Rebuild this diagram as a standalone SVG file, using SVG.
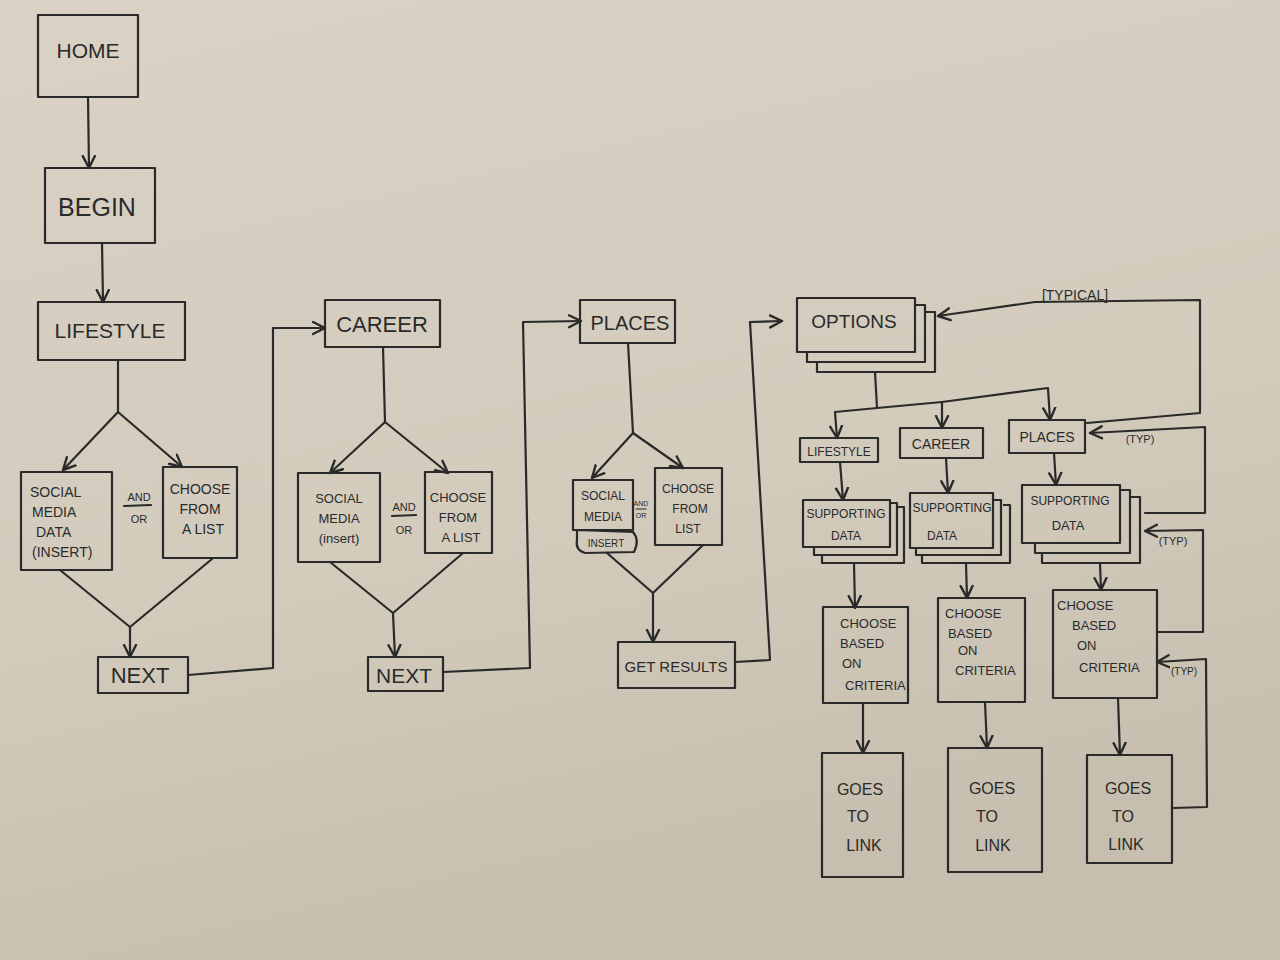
<svg xmlns="http://www.w3.org/2000/svg" width="1280" height="960" viewBox="0 0 1280 960">
<defs>
<linearGradient id="bg" x1="0" y1="0" x2="0.3" y2="1">
<stop offset="0" stop-color="#d9d2c5"/>
<stop offset="0.6" stop-color="#d3ccbd"/>
<stop offset="1" stop-color="#c6beae"/>
</linearGradient>
<marker id="ar" markerUnits="userSpaceOnUse" markerWidth="16" markerHeight="16" refX="13" refY="7" orient="auto" viewBox="0 0 16 14">
<path d="M1,1 L13,7 L1,13" fill="none" stroke="#2a2a2a" stroke-width="2.4" stroke-linejoin="round" stroke-linecap="round"/>
</marker>
<style>
.b{fill:none;stroke:#2a2a2a;stroke-width:2.2;stroke-linejoin:round}
.c{fill:none;stroke:#2a2a2a;stroke-width:2.2;stroke-linejoin:round;stroke-linecap:round}
.a{marker-end:url(#ar)}
text{font-family:"Liberation Sans","DejaVu Sans",sans-serif;fill:#2a2a2a;text-anchor:middle}
.s{font-size:14px}
.m{font-size:13px}
.t{font-size:12px}
.l{text-anchor:start}
</style>
</defs>
<rect width="1280" height="960" fill="url(#bg)"/>

<g id="connectors">
<path class="c a" d="M88,97 L89,168"/>
<path class="c a" d="M102,243 L103,302"/>
<path class="c" d="M118,360 L118,412"/>
<path class="c a" d="M118,412 L63,470"/>
<path class="c a" d="M118,412 L182,467"/>
<path class="c" d="M60,570 L130,627 L212,559"/>
<path class="c a" d="M130,627 L130,657"/>
<path class="c a" d="M188,675 L273,668 L273,328 L325,328"/>
<path class="c" d="M383,347 L385,422"/>
<path class="c a" d="M385,422 L330,473"/>
<path class="c a" d="M385,422 L448,473"/>
<path class="c" d="M330,562 L393,613 L463,553"/>
<path class="c a" d="M393,613 L395,657"/>
<path class="c a" d="M443,672 L530,668 L523,322 L581,321"/>
<path class="c" d="M628,343 L633,433"/>
<path class="c a" d="M633,433 L592,478"/>
<path class="c a" d="M633,433 L683,468"/>
<path class="c" d="M607,553 L653,593 L703,545"/>
<path class="c a" d="M653,593 L653,642"/>
<path class="c a" d="M735,662 L770,660 L750,322 L782,321"/>
<path class="c a" d="M1087,423 L1200,413 L1200,300 L1035,302 L938,316"/>
<path class="c" d="M875,372 L877,408"/>
<path class="c a" d="M877,408 L835,412 L837,438"/>
<path class="c a" d="M877,408 L942,402 L942,428"/>
<path class="c a" d="M942,402 L1048,388 L1050,420"/>
<path class="c a" d="M840,462 L843,500"/>
<path class="c a" d="M946,458 L948,493"/>
<path class="c a" d="M1054,453 L1056,485"/>
<path class="c a" d="M854,563 L855,608"/>
<path class="c a" d="M966,563 L967,598"/>
<path class="c a" d="M1100,563 L1101,590"/>
<path class="c a" d="M863,703 L863,753"/>
<path class="c a" d="M985,702 L987,748"/>
<path class="c a" d="M1118,698 L1120,755"/>
<path class="c a" d="M1145,513 L1205,513 L1205,427 L1090,433"/>
<path class="c a" d="M1157,632 L1203,632 L1203,530 L1145,531"/>
<path class="c a" d="M1173,808 L1207,807 L1206,659 L1157,662"/>
</g>

<g id="home"><rect class="b" x="38" y="15" width="100" height="82"/><text x="88" y="58" style="font-size:21px">HOME</text></g>
<g id="begin"><rect class="b" x="45" y="168" width="110" height="75"/><text x="97" y="216" style="font-size:25px">BEGIN</text></g>
<g id="lifestyle"><rect class="b" x="38" y="302" width="147" height="58"/><text x="110" y="338" style="font-size:21px">LIFESTYLE</text></g>
<g id="ls-social"><rect class="b" x="21" y="472" width="91" height="98"/>
<text class="s l" x="30" y="497">SOCIAL</text><text class="s l" x="32" y="517">MEDIA</text><text class="s l" x="36" y="537">DATA</text><text class="s l" x="32" y="557">(INSERT)</text></g>
<g id="ls-andor"><text x="139" y="501" style="font-size:11px">AND</text><path class="c" d="M124,506 L151,505"/><text x="139" y="523" style="font-size:11px">OR</text></g>
<g id="ls-choose"><rect class="b" x="163" y="467" width="74" height="91"/>
<text class="s" x="200" y="494">CHOOSE</text><text class="s" x="200" y="514">FROM</text><text class="s" x="203" y="534">A LIST</text></g>
<g id="ls-next"><rect class="b" x="98" y="657" width="90" height="36"/><text x="140" y="683" style="font-size:22px">NEXT</text></g>

<g id="career"><rect class="b" x="325" y="300" width="115" height="47"/><text x="382" y="332" style="font-size:22px">CAREER</text></g>
<g id="cr-social"><rect class="b" x="298" y="473" width="82" height="89"/>
<text class="m" x="339" y="503">SOCIAL</text><text class="m" x="339" y="523">MEDIA</text><text class="m" x="339" y="543">(insert)</text></g>
<g id="cr-andor"><text x="404" y="511" style="font-size:11px">AND</text><path class="c" d="M392,516 L416,515"/><text x="404" y="534" style="font-size:11px">OR</text></g>
<g id="cr-choose"><rect class="b" x="425" y="472" width="67" height="81"/>
<text class="m" x="458" y="502">CHOOSE</text><text class="m" x="458" y="522">FROM</text><text class="m" x="461" y="542">A LIST</text></g>
<g id="cr-next"><rect class="b" x="368" y="657" width="75" height="34"/><text x="404" y="683" style="font-size:21px">NEXT</text></g>

<g id="places"><rect class="b" x="580" y="300" width="95" height="43"/><text x="630" y="330" style="font-size:20px">PLACES</text></g>
<g id="pl-social"><path class="b" d="M573,530 L573,480 L633,480 L633,530 Z"/>
<path class="b" d="M577,530 L633,532 Q640,540 634,552 L585,553 Q575,550 577,540 Z"/>
<text class="t" x="603" y="500">SOCIAL</text><text class="t" x="603" y="521">MEDIA</text><text x="606" y="547" style="font-size:10px">INSERT</text></g>
<g id="pl-andor"><text x="641" y="506" style="font-size:7px">AND</text><path class="c" d="M636,509 L646,509" style="stroke-width:1.2"/><text x="641" y="518" style="font-size:7px">OR</text></g>
<g id="pl-choose"><rect class="b" x="655" y="468" width="67" height="77"/>
<text class="t" x="688" y="493">CHOOSE</text><text class="t" x="690" y="513">FROM</text><text class="t" x="688" y="533">LIST</text></g>
<g id="getresults"><rect class="b" x="618" y="642" width="117" height="46"/><text x="676" y="672" style="font-size:15px">GET RESULTS</text></g>

<g id="options">
<path class="b" d="M817,362 L817,372 L935,372 L935,312 L925,312"/>
<path class="b" d="M807,352 L807,362 L925,362 L925,305 L915,305"/>
<rect class="b" x="797" y="298" width="118" height="54"/>
<text x="854" y="328" style="font-size:19px">OPTIONS</text></g>
<g id="typical-label"><text x="1075" y="300" style="font-size:14px">[TYPICAL]</text></g>

<g id="sub-lifestyle"><rect class="b" x="800" y="438" width="78" height="24"/><text x="839" y="456" class="t">LIFESTYLE</text></g>
<g id="sub-career"><rect class="b" x="900" y="428" width="83" height="30"/><text x="941" y="449" class="s">CAREER</text></g>
<g id="sub-places"><rect class="b" x="1009" y="420" width="76" height="33"/><text x="1047" y="442" class="s">PLACES</text></g>

<g id="sd-lifestyle">
<path class="b" d="M822,555 L822,563 L904,563 L904,507 L898,507"/>
<path class="b" d="M814,547 L814,555 L897,555 L897,503 L890,503"/>
<rect class="b" x="803" y="500" width="87" height="47"/>
<text class="t" x="846" y="518">SUPPORTING</text><text class="t" x="846" y="540">DATA</text></g>
<g id="sd-career">
<path class="b" d="M922,555 L922,563 L1010,563 L1010,505 L1003,505"/>
<path class="b" d="M916,548 L916,555 L1001,555 L1001,500 L993,500"/>
<rect class="b" x="910" y="493" width="83" height="55"/>
<text class="t" x="952" y="512">SUPPORTING</text><text class="t" x="942" y="540">DATA</text></g>
<g id="sd-places">
<path class="b" d="M1042,553 L1042,563 L1140,563 L1140,497 L1130,497"/>
<path class="b" d="M1035,543 L1035,553 L1130,553 L1130,490 L1120,490"/>
<rect class="b" x="1022" y="485" width="98" height="58"/>
<text class="t" x="1070" y="505">SUPPORTING</text><text class="m" x="1068" y="530">DATA</text></g>

<g id="choose-1"><rect class="b" x="823" y="607" width="85" height="96"/>
<text class="m l" x="840" y="628">CHOOSE</text><text class="m l" x="840" y="648">BASED</text><text class="m l" x="842" y="668">ON</text><text class="m l" x="845" y="690">CRITERIA</text></g>
<g id="choose-2"><rect class="b" x="938" y="598" width="87" height="104"/>
<text class="m l" x="945" y="618">CHOOSE</text><text class="m l" x="948" y="638">BASED</text><text class="m l" x="958" y="655">ON</text><text class="m l" x="955" y="675">CRITERIA</text></g>
<g id="choose-3"><rect class="b" x="1053" y="590" width="104" height="108"/>
<text class="m l" x="1057" y="610">CHOOSE</text><text class="m l" x="1072" y="630">BASED</text><text class="m l" x="1077" y="650">ON</text><text class="m l" x="1079" y="672">CRITERIA</text></g>

<g id="goes-1"><rect class="b" x="822" y="753" width="81" height="124"/>
<text x="860" y="795" style="font-size:16px">GOES</text><text x="858" y="822" style="font-size:16px">TO</text><text x="864" y="851" style="font-size:16px">LINK</text></g>
<g id="goes-2"><rect class="b" x="948" y="748" width="94" height="124"/>
<text x="992" y="794" style="font-size:16px">GOES</text><text x="987" y="822" style="font-size:16px">TO</text><text x="993" y="851" style="font-size:16px">LINK</text></g>
<g id="goes-3"><rect class="b" x="1087" y="755" width="85" height="108"/>
<text x="1128" y="794" style="font-size:16px">GOES</text><text x="1123" y="822" style="font-size:16px">TO</text><text x="1126" y="850" style="font-size:16px">LINK</text></g>

<g id="typ-labels"><text x="1140" y="443" style="font-size:11px">(TYP)</text><text x="1173" y="545" style="font-size:11px">(TYP)</text><text x="1184" y="675" style="font-size:10px">(TYP)</text></g>
</svg>
